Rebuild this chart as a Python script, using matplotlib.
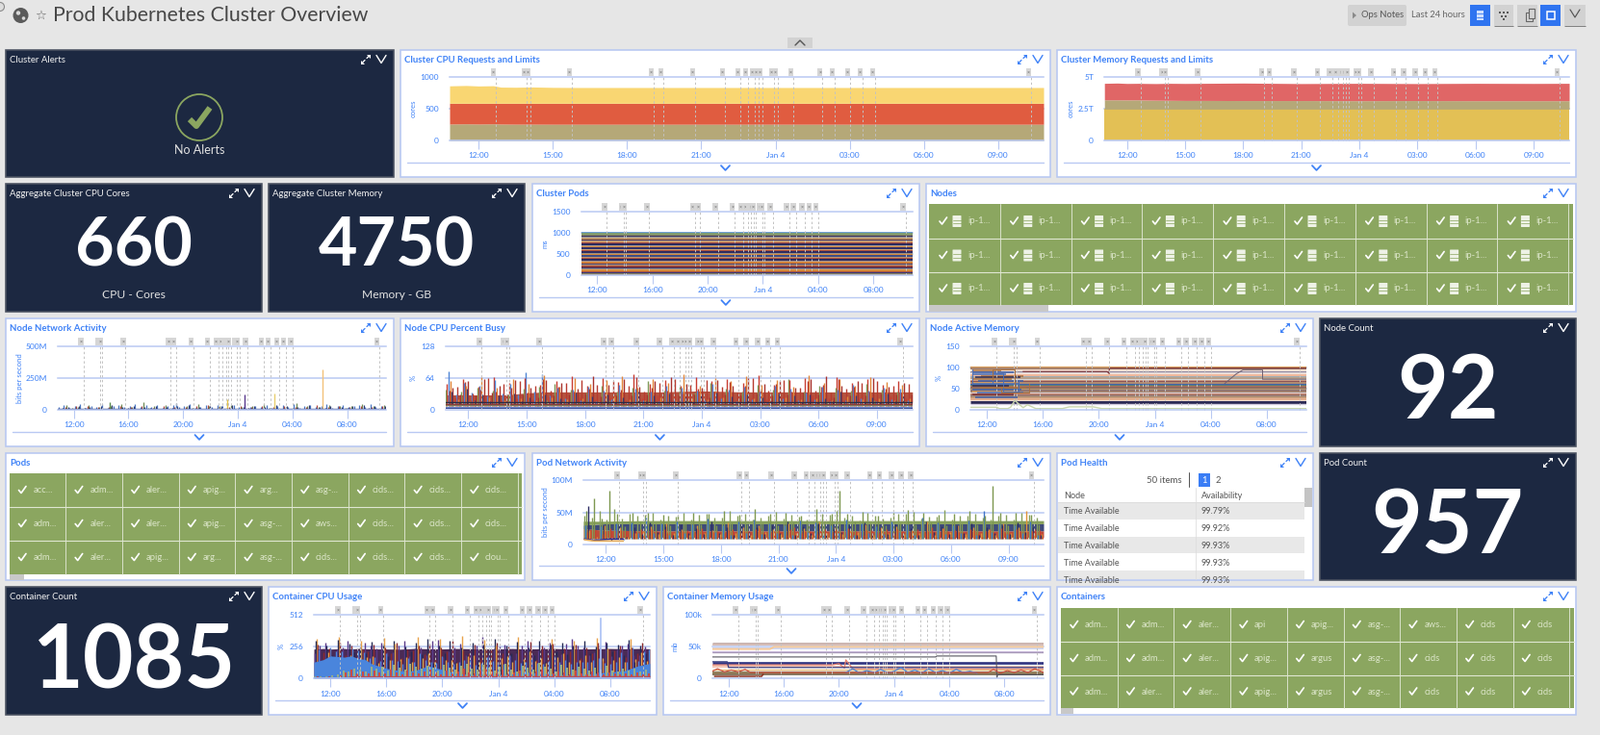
import numpy as np
import matplotlib
matplotlib.use("Agg")
import matplotlib.pyplot as plt
from matplotlib.patches import Rectangle, Circle, Polygon, FancyBboxPatch
from matplotlib.lines import Line2D
from matplotlib.collections import LineCollection

plt.rcParams['font.family'] = ['Lato', 'DejaVu Sans']
W, H = 1662, 764
BG = '#e6e6e6'; NAVY = '#1c2841'; EDGE = '#b7c8f2'; BLUE = '#3f82f7'; GRID = '#b9c9f3'
TILE = '#8ba660'; TILE_TXT = '#dbe5c8'

# ---------- data ----------
START, END = 10.83, 34.83
NOTES = [12.70,13.94,14.10,15.77,19.08,19.47,20.75,21.96,22.58,22.89,23.16,23.32,23.47,
         23.94,24.10,24.72,25.89,26.39,27.01,27.52,28.02,34.33]
H3 = [12,15,18,21,24,27,30,33]; L3 = ['12:00','15:00','18:00','21:00','Jan 4','03:00','06:00','09:00']
H4 = [12,16,20,24,28,32];       L4 = ['12:00','16:00','20:00','Jan 4','04:00','08:00']

BAND_T   = [10.83,11.5,12.0,12.6,12.9,13.5,14.2,15,16,18,21,24,27,30,33,34.83]
CPU_LOW  = [258,262,258,262,258,256,256,255,255,255,255,255,255,255,255,255]
CPU_MID  = [586,586,586,586,586,586,586,586,586,586,586,586,586,586,586,586]
CPU_HIGH = [860,866,858,862,840,838,842,836,834,834,834,834,834,834,834,834]
MEM_LOW  = [2.47,2.47,2.47,2.47,2.47,2.47,2.47,2.47,2.47,2.47,2.47,2.47,2.47,2.47,2.47,2.47]
MEM_MID  = [3.20,3.20,3.19,3.20,3.18,3.17,3.16,3.15,3.15,3.14,3.14,3.13,3.14,3.13,3.13,3.13]
MEM_HIGH = [4.50,4.52,4.49,4.50,4.49,4.48,4.50,4.49,4.50,4.52,4.48,4.50,4.48,4.50,4.49,4.50]

POD_H = [36,30,34,28,34,30,26,34,28,32,34,30,28,36,26,32,30,34,28,32,30,34,26,32,30,36,28,30,34,30,32,26,30]
POD_C = ['#8a7f5a','#3a3a78','#a8503c','#d58a3c','#a89c94','#2f2e66','#93403a','#c9a07a','#3c3b72','#d1803a',
         '#b09a8a','#2b2b5f','#b2533f','#b99570','#3f4c86','#d68838','#9b8f84','#2f2d63','#a34a3a','#cfa070',
         '#32326a','#cc7f3a','#b0a090','#2c2b60','#a5483c','#c6986e','#3a3a70','#d18a40','#aa9a8c','#2f2f66',
         '#8f8a60','#7d9a70','#6f9fd8']

NC_ORANGE = [58,22,49,18,66,25,44,20,61,24,53,19,70,26,47,21,64,23,52,18,59,27,68,22,45,20,62,25,55,19,72,24,48,21,63,26,57,20,67,23,50,18,60,25,46,22,69,24,54,19,62,27,49,21,65,23,56,20,51,24]
NC_RED1   = [52,26,61,20,47,28,66,19,55,24,63,22,50,27,58,18,68,25,49,21,64,26,56,20,71,23,53,28,60,19,48,25,65,22,57,27,62,20,54,24,69,21,51,26,59,18,63,28,47,23,66,20,55,25,61,22,50,27,58,24]
NC_RED2   = [44,30,57,28,62,34,48,30,59,31,45,26,60,29,55,30,43,32,67,27,50,29,61,29,46,31,58,34,65,28,52,30,44,26,60,30,49,28,64,32,53,29,58,30,45,34,61,31,67,26,48,29,57,28,63,32,46,30,54,30]
NC_RED3   = [38,47,56,33,41,63,36,52,44,58,35,49,62,38,46,54,37,60,42,51,34,57,40,48,65,36,44,55,39,61,33,50,43,59,37,46,56,35,48,63,41,38,52,60,36,45,57,39,50,34,62,43,47,55,37,58,42,49,35,53]
NC_BLUE   = [78,30,55,34,48,28,60,32,52,30,75,36,72,28,44,24,40,20,46,18,38,22,50,16,42,20,36,18,48,22,44,16,39,20,52,24,41,18,46,21,37,16,49,23,43,19,35,22,47,17,40,20,51,24,38,18,45,21,42,19]
NC_OLIVE  = [40,14,36,18,44,12,38,16,30,14,42,8,46,20,52,18,40,16,34,12,48,20,36,14,44,18,58,16,38,12,46,20,35,15,54,18,42,14,37,16,50,12,40,20,62,15,36,13,48,18,44,16,39,12,52,20,41,14,37,18]
NC_DARK   = [36,16,42,20,30,18,28,15,33,17,26,14,30,16,24,15,34,17,27,14,31,16,25,15,36,17,28,14,32,16,26,15,29,17,35,14,27,16,31,15,25,17,33,14,28,16,30,15,24,17,37,14,29,16,26,15,32,17,27,14]
NC_KNOTS  = [10.83,12,13,14,15,16,18,20,22,24,26,28,30,32,34.83]
NC_CORE   = [30,30,30,30,34,36,36,36,36,38,36,36,36,36,36]
NC_BASE   = [14,14,13,13,15,15,15,14,15,15,15,14,15,15,15]
NC_FLATS  = [(3,'#2d3f8e',1.3),(6.5,'#6f8fd0',0.6),(9,'#7d7a5a',0.8),(12,'#8c3b3a',0.8),(16,'#2c2c44',1.0)]

NN_NAVY  = [12,26,9,31,14,22,8,28,11,35,10,24,13,30,9,21,15,33,8,26,12,29,10,38,14,23,9,31,11,27,13,36,8,25,12,30,10,22,15,34,9,28,13,24,11,37,8,26,14,31,10,23,12,29,9,35,13,27,11,30]
NN_OLIVE = [7,34,12,22,6,41,10,25,9,30,7,45,11,24,6,60,12,29,8,36,10,26,7,33,12,48,9,27,6,31,11,39,8,24,10,28,7,42,12,30,9,26,6,52,11,33,8,25,10,38,7,30,12,27,9,44,6,29,11,35]
NN_RED   = [10,20,6,27,9,31,7,19,11,26,5,33,8,22,10,28,6,18,9,30,7,25,11,21,5,29,8,34,10,20,6,24,9,32,7,19,11,27,5,23,8,30,10,21,6,26,9,35,7,20,11,28,5,24,8,31,10,22,6,27]
NN_BLUE  = [24,38,16,29,42,18,33,25,44,17,30,38,21,27,48,19,35,24,40,16,28,36,22,31,45,18,26,34,20,41,29,17,37,23,46,19,32,26,39,16,30,35,24,43,18,27,37,21,33,47,17,28,40,22,31,36,19,44,25,30]
NN_PEAKS_T = [23.2,24.5,26.7,30.2,14.6,19.5]
NN_PEAKS_V = [85,120,125,318,60,55]
NN_PEAKS_C = ['#e8c44a','#5b3a8e','#e8cf70','#f3c27a','#5a8a50','#4d7ac0']

PN_GREEN = [52,72,40,84,48,28,50,36,50,32,46,30,44,33,50,31,48,30,52,34,46,31,55,33,47,30,49,34,44,31,56,33,48,84,47,35,51,32,45,30,49,33,54,31,50,34,46,30,48,33,52,31,45,92,50,30,49,33,46,31]
PN_OLIVE = [44,42,52,38,55,40,47,45,46,50,38,44,43,49,39,46,47,41,41,53,44,48,38,42,45,51,40,46,43,39,39,48,46,52,41,44,37,49,44,40,42,47,47,51,40,43,43,54,38,45,45,48,41,39,44,46,39,50,46,42]
PN_BLUE  = [30,9,28,8,32,7,34,17,41,18,33,15,36,18,31,16,40,19,30,15,35,17,38,16,32,18,29,15,37,19,34,16,30,18,39,15,33,17,28,16,36,19,31,15,41,18,34,16,29,17,37,15,52,19,33,16,30,18,35,15]
PN_NAVY  = [60,6,30,5,28,12,26,16,34,19,28,15,31,18,25,16,35,17,27,15,33,19,26,16,30,18,36,15,28,17,32,16,24,19,29,15,34,18,27,16,31,17,25,15,35,19,28,16,30,18,33,15,26,17,29,16,34,19,27,15]
PN_ORANGE= [22,12,30,8,26,11,18,20,28,16,33,17,24,15,30,18,22,16,34,17,26,15,29,19,23,16,32,18,25,15,36,17,27,16,24,19,31,15,26,18,28,16,22,17,35,15,25,19,30,16,27,18,23,15,33,17,26,52,18,16]
PN_RED   = [24,10,20,12,22,11,19,11,23,10,18,12,21,11,24,10,19,12,22,10,20,11,25,12,18,10,23,11,20,12,21,10,24,11,19,12,22,10,18,11,23,12,20,10,21,11,25,12,19,10,22,11,24,12,18,10,20,11,23,12]
PN_RED2  = [19,22,16,25,18,21,17,23,15,20,24,16,19,22,17,25,15,21,18,23,16,20,24,17,19,22,15,26,18,21,16,23,19,17,25,20,15,22,18,24,16,21,19,23,17,26,15,20,22,18,24,16,21,19,25,17,23,15,20,22]
PN_KNOTS = [10.83,12,14,16,18,20,22,24,26,28,30,32,34.83]
PN_LOW   = [8,10,11,11,11,11,11,11,11,11,11,11,11]
PN_MID   = [24,22,21,21,21,21,21,21,21,21,21,21,21]
PN_DARK  = [30,32,32,32,32,32,32,32,32,32,32,32,32]
PN_TOP   = [36,36,37,37,37,37,37,37,37,37,37,37,37]
PN_EARLY_T = [10.9,11.4,12.2,12.9]; PN_EARLY_NAVY = [8,6,8,8]; PN_EARLY_ORANGE = [7,5,5,5]

CC_KNOTS = [10.83,11.5,12,13,13.5,14,14.5,15,16,17,18,19,20,21,22,23,24,25,26,27,28,29,30,31,32,33,34,34.83]
CC_DARK  = [235,240,235,240,236,240,238,236,236,234,240,238,236,240,238,236,236,240,236,238,240,236,236,238,240,238,240,238]
CC_BLUE  = [130,150,180,170,180,160,150,115,80,60,60,100,70,40,30,30,30,35,50,40,35,25,30,40,50,60,100,120]
CC_NAVY   = [300,120,260,190,310,150,280,210,250,200,295,130,270,180,305,140,255,215,285,195,315,125,265,205,300,135,245,190,290,150,275,210,320,120,260,200,295,140,250,185,305,130,270,215,285,195,260,125,300,205,255,140,290,220,275,190,310,130,265,200]
CC_MAROON = [270,210,240,150,285,190,260,170,230,220,275,140,250,200,290,160,235,225,265,195,280,155,245,215,300,135,225,205,270,165,240,230,285,200,255,145,230,210,295,150,260,195,280,135,240,220,270,160,250,205,290,140,235,225,265,170,245,200,285,150]
CC_ORANGE = [320,140,210,120,330,160,190,130,300,170,180,125,325,145,280,155,170,135,335,165,200,130,315,150,150,125,340,175,190,135,310,145,260,160,175,130,330,155,220,140,165,125,320,170,205,135,300,150,185,130,325,160,240,145,170,130,315,155,210,140]
CC_PURPLE = [200,260,290,180,230,250,305,170,180,290,260,240,290,210,210,260,300,180,240,250,190,300,310,170,220,245,280,185,200,260,330,190,240,255,270,175,205,265,300,195,225,250,285,170,195,280,315,260,245,190,210,245,295,175,230,265,280,185,190,255]
CC_BLUE_L = [230,120,250,215,220,130,240,225,210,160,170,140,200,150,140,120,160,130,205,145,130,125,180,135,120,130,150,150,110,125,170,140,135,120,190,145,125,130,155,125,115,140,175,135,145,120,130,130,130,145,165,125,120,135,210,130,250,140,220,230]
CC_GREEN_J = [14,12,16,20,28,62,55,80,72,58,90,74,96,64,110,82,68,118,92,76,104,88,60,112,84,70,98,120,78,66,108,86,62,94,116,72,58,100,82,68,122,90,74,56,106,84,66,96,78,60,88,70,102,64,56,80,62,74,54,68]
CC_RED_J   = [12,10,14,11,22,48,66,38,58,42,62,46,36,70,50,34,60,44,38,56,72,48,34,64,40,52,76,44,36,60,80,54,42,68,38,50,64,34,46,58,70,42,36,56,48,32,62,40,34,52,44,30,48,36,28,42,32,46,30,38]
CC_KNOTS2 = [10.83,13,13.5,34.83]; CC_REDFILL = [6,8,20,22]
CC_SPIKE = [31.3, 480]

CM_FLATS = [(55,'#b79a94',1.8),(53,'#d8c0ba',1.2),(47.5,'#cfd6f0',1.4),(41.5,'#c7b6d8',1.6),(40.5,'#a89ab8',0.8),
            (24.5,'#2f3380',1.9),(18,'#f5c8b6',1.6),(13,'#e6bd7a',0.9),(11,'#a89a78',1.0),(9.5,'#8a7a5a',1.4),(7.5,'#9b8460',1.6),(5.5,'#7b6a50',1.2)]
CM_ORANGE_T = [10.83,15.0,15.3,34.83]; CM_ORANGE_V = [46,46,49.5,49.5]
CM_GRAY_T = [10.83,27.0,27.1,31.4,31.45,31.5,34.83]; CM_GRAY_V = [33.5,33.5,35,35,1,5.5,5.5]
CM_PINK_T = [10.83,19.5,20.0,20.4,20.5,21,34.83]; CM_PINK_V = [21,21,23,16,29,15,15]
CM_NAVY_T = [10.83,11.9,12.0,34.83]; CM_NAVY_V = [26,26,17,17]
CM_DARKRED_T = [11.0,14.4,14.5]; CM_DARKRED_V = [3,3,6]
CM_BLUE_T = [20.5,21,21.5,22,22.6,23,23.6,24,24.5,25,25.5,26,26.5,27,27.5,28,28.5,29,29.5,30]
CM_BLUE_V = [9,15,8,12,9,14,8,11,17,9,13,8,15,9,12,8,14,9,11,8]
CM_RED_T = [10.83,11.2,11.7,12.2,12.7,13.2,13.6,30.8,31.2,31.7,32.2,32.7,33.2,33.7,34.2,34.83]
CM_RED_V = [11,15,10,13,10,14,9,9,14,8,12,9,13,9,15,9]

NM_FLATS = [(99,'#d9a060',1.6),(96.5,'#a5806a',1.4),(92,'#f2dcd0',2.2),(88.5,'#8e8aa5',1.4),(85.5,'#f3e8e2',1.8),
 (82.5,'#c77e60',1.2),(80.5,'#f0b89c',1.6),(77.5,'#7f9aa8',1.1),(74.5,'#b9a08a',1.6),(71,'#5a7a98',1.0),(68.5,'#c99a82',1.6),
 (65.5,'#7a3f4c',1.2),(62.5,'#b08a70',1.6),(59.5,'#3d5fa8',1.4),(57,'#4f8a70',1.1),(54.5,'#a9705c',1.6),(51.5,'#8f6a5c',1.4),
 (48,'#b8925e',1.2),(45,'#8a6f70',1.5),(42.5,'#a0806f',1.4),(39,'#6a4060',1.0),(36.5,'#c4806a',1.5),(33.5,'#9a7870',1.4),
 (30,'#a89070',1.4),(27.5,'#c99a7a',1.7),(24.5,'#e5b090',1.6),(21,'#f2ddcc',1.3),(17.5,'#2c2a55',2.2),(14.5,'#d5cfe0',1.0)]
NM_PALE_T = [10.83,12.7,12.9,13.5,13.7,14.0,14.6,14.9,15.5,17.4,17.9,19.6,20.2,34.83]
NM_PALE_V = [6,6,3,3,6,22,5,12,3,3,7,7,3,3]
NM_SHORT_Y = [92,88,83,79,76,72,68,64,60,56,52,48,44,40,36,30]
NM_SHORT_C = ['#a8703f','#3d5fa8','#4a6fb5','#a8703f','#2c2a55','#a8703f','#3d5fa8','#d9a060','#4a6fb5','#2c2a55','#a8703f','#3d5fa8','#d9a060','#4a6fb5','#7a3036','#3d5fa8']
NM_SHORT_A = [11.0,11.0,11.0,11.6,11.2,11.0,11.4,11.0,11.0,11.0,11.5,11.0,11.0,11.3,11.0,11.2]
NM_SHORT_B = [13.0,14.0,13.4,14.6,14.4,13.8,14.6,14.0,14.3,13.6,14.8,14.5,14.0,14.6,13.9,14.2]
NM_BLUE_T = [11,11,12.4,12.4,13.2,13.2,14.3,14.3]
NM_BLUE_V = [95,60,60,85,85,42,42,68]
NM_BROWN_T = [12.4,12.4,14.0,14.0,13.0,13.0,15.0,15.0]
NM_BROWN_V = [70,96,96,55,55,40,40,62]
NM_MAROON_T = [14.6,20.6,20.75,20.75,34.83]; NM_MAROON_V = [90,90,85,98,98]
NM_GRAY_T = [29.0,29.8,30.3,31.7,31.7,34.83]; NM_GRAY_V = [62,84,94,94,72,72]

NODES_LABEL = 'ip-1...'
POD_LABELS = [['acc...','adm...','aler...','apig...','arg...','asg-...','cids...','cids...','cids...'],
              ['adm...','aler...','aler...','apig...','asg-...','aws...','cids...','cids...','cids...'],
              ['adm...','aler...','apig...','arg...','asg-...','cids...','cids...','cids...','clou...']]
CONT_LABELS = [['adm...','adm...','aler...','api','apig...','asg-...','aws...','cids','cids'],
               ['adm...','adm...','aler...','apig...','argus','asg-...','cids','cids','cids'],
               ['adm...','aler...','aler...','apig...','argus','asg-...','cids','cids','cids']]
AVAIL = ['99.79%','99.92%','99.93%','99.93%','99.93%']

# ---------- canvas ----------
fig = plt.figure(figsize=(W/100, H/100), dpi=100, facecolor=BG)
bg = fig.add_axes([0, 0, 1, 1], zorder=0); bg.set_xlim(0, W); bg.set_ylim(H, 0); bg.axis('off')
PT = 0.72

def line(xs, ys, c, lw=1.0, **k):
    bg.add_line(Line2D(xs, ys, color=c, lw=lw*PT, solid_capstyle=k.pop('cap', 'round'), **k))

def txt(x, y, s, px, c, ha='left', weight='normal', **k):
    return bg.text(x, y, s, fontsize=px*PT, color=c, ha=ha, va='center', fontweight=weight, **k)

def expand_icon(x, y, c):
    line([x-3, x-1], [y+3, y+1], c, 1.3); line([x+1, x+3], [y-1, y-3], c, 1.3)
    bg.add_patch(Polygon([[x+1, y-5], [x+5, y-5], [x+5, y-1]], fc=c, ec='none'))
    bg.add_patch(Polygon([[x-5, y+1], [x-5, y+5], [x-1, y+5]], fc=c, ec='none'))

def vee(x, y, c, w=5, h=4, lw=1.4):
    line([x-w, x, x+w], [y-h, y+h, y-h], c, lw)

def panel(x0, y0, x1, y1, title, dark=False):
    bg.add_patch(Rectangle((x0, y0), x1-x0, y1-y0, fc=NAVY if dark else 'white',
                           ec='#4a5160' if dark else EDGE, lw=1.6*PT))
    c = '#f2f2f2' if dark else BLUE
    txt(x0+4, y0+10.8, title, 9.6, c, weight='bold' if not dark else 'normal')
    ic = 'white' if dark else BLUE
    expand_icon(x1-29, y0+9.5, ic); vee(x1-13, y0+9.5, ic)

def chart(x0, x1, ytop, ybot, yticks, ylabs, ylab, ymax, ticks, labs, panel_left, panel_bottom, ylab_x):
    ax = fig.add_axes([x0/W, 1-ybot/H, (x1-x0)/W, (ybot-ytop)/H], zorder=2)
    ax.patch.set_alpha(0)
    ax.set_xlim(START, END); ax.set_ylim(0, ymax)
    for s in ax.spines.values():
        s.set_visible(False)
    ax.set_yticks(yticks); ax.set_yticklabels(ylabs)
    ax.set_xticks(ticks); ax.set_xticklabels(labs)
    ax.tick_params(axis='y', length=0, pad=8, labelsize=6, labelcolor=BLUE)
    ax.tick_params(axis='x', length=6.5, width=0.8, color=GRID, pad=2.5, labelsize=6, labelcolor=BLUE)
    for v in yticks:
        ax.axhline(v, color=GRID, lw=1.1, zorder=1.5 if v else 6, clip_on=False)
    for t in NOTES:
        ax.plot([t, t], [0, ymax], color='#c2c2c2', lw=0.7, ls=(0, (2.5, 2.5)), zorder=5, clip_on=False)
        ax.annotate('×', xy=(t, 1), xycoords=ax.get_xaxis_transform(), xytext=(-1.8, 3.6),
                    textcoords='offset points', fontsize=3.8, color='#666666', ha='center', va='center',
                    bbox=dict(boxstyle='square,pad=0.25', fc='#d6d6d6', ec='none'), annotation_clip=False, zorder=7)
    bg.text(ylab_x, (ytop+ybot)/2, ylab, rotation=90, fontsize=5.6, color=BLUE, ha='center', va='center')
    sep = panel_bottom-15
    line([panel_left+7, x1], [sep, sep], GRID, 1.4)
    vee((panel_left+7+x1)/2, panel_bottom-9.5, BLUE, 4.5, 2.4, 1.8)
    return ax

def spikes(ax, series, floor, lw=1.0, z=3):
    n = len(series)
    segs, cols, tops = [], [], []
    for k, (vals, c) in enumerate(series):
        step = (END-START)/len(vals)
        t = START + step*(np.arange(len(vals)) + (k+0.5)/n)
        for ti, v in zip(t, vals):
            segs.append([(ti, floor), (ti, v)]); cols.append(c); tops.append(v)
    order = np.argsort(tops)[::-1]
    ax.add_collection(LineCollection([segs[i] for i in order], colors=[cols[i] for i in order],
                                     linewidths=lw, zorder=z))

def tiles(x0, y_edges, cw, rows, cols, labels, check_dx, text_dx, server=False):
    total = cw*cols
    for r in range(rows):
        y0, y1 = y_edges[r], y_edges[r+1]
        bg.add_patch(Rectangle((x0, y0), total+4.5, y1-y0, fc=TILE, ec='none'))
        if r:
            line([x0, x0+total+4.5], [y0, y0], '#dfe6d2', 1.1)
        for c in range(cols):
            xc = x0+c*cw
            if c:
                line([xc, xc], [y0, y1], '#dfe6d2', 0.9)
            ym = (y0+y1)/2
            cx = xc+check_dx
            line([cx-4, cx-1.5, cx+3.5], [ym, ym+3, ym-4], 'white', 1.7)
            if server:
                bg.add_patch(FancyBboxPatch((xc+25, ym-5.5), 8, 11, boxstyle='round,pad=0.5', fc='#eef2e6', ec='none'))
                line([xc+24.5, xc+33.5], [ym-1.5, ym-1.5], TILE, 0.7)
                line([xc+24.5, xc+33.5], [ym+2, ym+2], TILE, 0.7)
            txt(xc+text_dx, ym, labels[r][c], 9.4, TILE_TXT)
    line([x0+total, x0+total], [y_edges[0], y_edges[-1]], '#dfe6d2', 0.9)

# ---------- header ----------
bg.add_patch(Circle((0, 7), 4.5, fc='#dddddd', ec='#8a8a8a', lw=0.8))
bg.add_patch(Circle((21.5, 16), 8, fc='#5a5a5a', ec='none'))
bg.add_patch(Circle((19, 13.5), 2.2, fc='#d8d8d8', ec='none'))
bg.add_patch(Circle((24.5, 19), 1.8, fc='#d8d8d8', ec='none'))
bg.text(42, 16, '☆', fontsize=9.5, color='#666666', ha='center', va='center', family='DejaVu Sans')
txt(55, 16, 'Prod Kubernetes Cluster Overview', 21.3, '#474747')
bg.add_patch(FancyBboxPatch((1402, 7), 57, 18, boxstyle='round,pad=2', fc='#d2d2d2', ec='none'))
bg.add_patch(Polygon([[1405, 12.5], [1405, 19.5], [1409, 16]], fc='#8a8a8a', ec='none'))
txt(1414, 16, 'Ops Notes', 9.4, '#555555')
txt(1466, 16, 'Last 24 hours', 9.4, '#666666')
for xa, xb, c in [(1527, 1548, '#2f74f0'), (1552, 1572, '#d2d2d2'), (1576, 1597, '#d2d2d2'), (1600, 1621, '#2f74f0'), (1625, 1647, '#d2d2d2')]:
    bg.add_patch(Rectangle((xa, 5), xb-xa, 22, fc=c, ec='none'))
    if c != '#2f74f0':
        line([xa, xb], [27, 27], '#777777', 0.9, cap='butt')
bg.add_patch(Rectangle((1534, 11), 7, 10, fc='#cfe0ff', ec='none'))
line([1534, 1541], [14, 14], '#2f74f0', 0.8); line([1534, 1541], [18, 18], '#2f74f0', 0.8)
for dx, dy in [(-4, -2), (0, -2), (4, -2), (-2, 2), (2, 2), (0, 5)]:
    bg.add_patch(Rectangle((1561.5+dx-1, 15+dy-1), 2, 2, fc='#5a5a5a', ec='none'))
bg.add_patch(Rectangle((1585, 13), 7, 9, fc='none', ec='#666666', lw=0.8))
bg.add_patch(Rectangle((1588, 9), 6, 10, fc='#d2d2d2', ec='#666666', lw=0.8))
bg.add_patch(Rectangle((1606.5, 11.5), 8, 8, fc='none', ec='white', lw=1.1))
vee(1636, 14, '#555555', 5, 4, 1.2)
bg.add_patch(Rectangle((818, 39), 26, 11, fc='#d2d2d2', ec='none'))
line([826, 831, 836], [47, 42, 47], '#555555', 1.4)

# ---------- alerts ----------
panel(6, 52, 409, 184, 'Cluster Alerts', dark=True)
bg.add_patch(Circle((207, 122), 24, fc='none', ec='#8ba660', lw=1.8*PT))
line([197, 204, 218], [124, 131, 112], '#8ba660', 6, cap='butt')
txt(207, 156, 'No Alerts', 12.5, '#e2e2e2', ha='center')

# ---------- cluster CPU ----------
panel(416, 52, 1091, 184, 'Cluster CPU Requests and Limits')
a = chart(467, 1084, 80, 146, [0, 500, 1000], ['0', '500', '1000'], 'cores', 1000, H3, L3, 416, 184, 429)
a.fill_between(BAND_T, 0, CPU_LOW, color='#b5a878', lw=0, zorder=2)
a.fill_between(BAND_T, CPU_LOW, CPU_MID, color='#e05c40', lw=0, zorder=2)
a.fill_between(BAND_T, CPU_MID, CPU_HIGH, color='#f9d672', lw=0, zorder=2)

# ---------- cluster memory ----------
panel(1098, 52, 1637, 184, 'Cluster Memory Requests and Limits')
a = chart(1147.2, 1630, 80, 146, [0, 2.5, 5], ['0', '2.5T', '5T'], 'cores', 5, H3, L3, 1098, 184, 1112)
a.fill_between(BAND_T, 0, MEM_LOW, color='#e3c055', lw=0, zorder=2)
a.fill_between(BAND_T, MEM_LOW, MEM_MID, color='#b5a878', lw=0, zorder=2)
a.fill_between(BAND_T, MEM_MID, MEM_HIGH, color='#e06666', lw=0, zorder=2)

# ---------- aggregates ----------
panel(6, 191, 272, 324, 'Aggregate Cluster CPU Cores', dark=True)
txt(139, 256, '660', 70, 'white', ha='center', weight='bold')
txt(139, 306, 'CPU - Cores', 12, '#e2e2e2', ha='center')
panel(279, 191, 545, 324, 'Aggregate Cluster Memory', dark=True)
txt(412, 256, '4750', 70, 'white', ha='center', weight='bold')
txt(412, 306, 'Memory - GB', 12, '#e2e2e2', ha='center')

# ---------- cluster pods ----------
panel(553, 191, 955, 324, 'Cluster Pods')
a = chart(603.5, 947.8, 220, 286, [0, 500, 1000, 1500], ['0', '500', '1000', '1500'], 'ms', 1500, H4, L4, 553, 324, 566)
bot = 0
for h_, c_ in zip(POD_H, POD_C):
    a.fill_between([START, END], bot, bot+h_, color=c_, lw=0, zorder=2)
    bot += h_

# ---------- nodes ----------
panel(962, 191, 1637, 324, 'Nodes')
tiles(965, [212, 248, 283, 317], 73.8, 3, 9, [[NODES_LABEL]*9]*3, 15, 40, server=True)
bg.add_patch(Rectangle((965, 317), 124, 6.5, fc='#c8c8c8', ec='none'))

# ---------- node network ----------
panel(6, 331, 409, 464, 'Node Network Activity')
a = chart(60, 401, 359.7, 426, [0, 250, 500], ['0', '250M', '500M'], 'bits per second', 500, H4, L4, 6, 464, 20)
spikes(a, [(NN_BLUE, '#4a78c4'), (NN_RED, '#b0453c'), (NN_OLIVE, '#6f8a55'), (NN_NAVY, '#2e3a78')], 3, lw=0.9)
a.vlines(NN_PEAKS_T, 0, NN_PEAKS_V, colors=NN_PEAKS_C, lw=1.0, zorder=3)
a.plot([START, END], [5, 5], color='#2e3a78', lw=1.0, zorder=4)

# ---------- node CPU ----------
panel(416, 331, 955, 464, 'Node CPU Percent Busy')
a = chart(462.7, 947.8, 359.7, 426, [0, 64, 128], ['0', '64', '128'], '%', 128, H3, L3, 416, 464, 429)
a.fill_between(NC_KNOTS, NC_BASE, NC_CORE, color='#b5533f', lw=0, zorder=2)
spikes(a, [(NC_OLIVE, '#7f9a58'), (NC_RED1, '#c83c30'), (NC_BLUE, '#4f86d6'), (NC_RED3, '#b83a2e'), (NC_ORANGE, '#e2873a'),
           (NC_DARK, '#3a3a6e'), (NC_RED2, '#a8322c')], 8, lw=1.0)
for y_, c_, w_ in NC_FLATS:
    a.plot([START, END], [y_, y_], color=c_, lw=w_, zorder=4)

# ---------- node active memory ----------
panel(962, 331, 1364, 464, 'Node Active Memory')
a = chart(1008, 1357, 359.7, 426, [0, 50, 100, 150], ['0', '50', '100', '150'], '%', 150, H4, L4, 962, 464, 975)
for y_, c_, w_ in NM_FLATS:
    a.plot([START, END], [y_, y_], color=c_, lw=w_, zorder=2, solid_capstyle='butt')
a.hlines(NM_SHORT_Y, NM_SHORT_A, NM_SHORT_B, colors=NM_SHORT_C, lw=1.1, zorder=2.5)
a.plot(NM_PALE_T, NM_PALE_V, color='#c9d6ae', lw=1.0, zorder=3)
a.plot(NM_BLUE_T, NM_BLUE_V, color='#4a6fb5', lw=0.7, zorder=3)
a.plot(NM_BROWN_T, NM_BROWN_V, color='#a8703f', lw=0.7, zorder=3)
a.plot(NM_MAROON_T, NM_MAROON_V, color='#7a3036', lw=0.8, zorder=3)
a.plot(NM_GRAY_T, NM_GRAY_V, color='#6f5f70', lw=0.7, zorder=3)

# ---------- node count ----------
panel(1371, 331, 1637, 464, 'Node Count', dark=True)
txt(1504, 409, '92', 91, 'white', ha='center', weight='bold')

# ---------- pods ----------
panel(6, 471, 545, 603, 'Pods')
tiles(9.5, [492, 527, 562, 597], 58.7, 3, 9, POD_LABELS, 14, 25)
bg.add_patch(Rectangle((9.5, 597), 15.5, 6, fc='#c8c8c8', ec='none'))

# ---------- pod network ----------
panel(553, 471, 1091, 603, 'Pod Network Activity')
a = chart(606, 1084, 499.3, 565.7, [0, 50, 100], ['0', '50M', '100M'], 'bits per second', 100, H3, L3, 553, 603, 566)
a.fill_between(PN_KNOTS, PN_LOW, PN_MID, color='#c04a38', lw=0, zorder=2)
a.fill_between(PN_KNOTS, PN_MID, PN_DARK, color='#3e4a7a', lw=0, zorder=2)
a.fill_between(PN_KNOTS, PN_DARK, PN_TOP, color='#87a05c', lw=0, zorder=2)
spikes(a, [(PN_OLIVE, '#87a05c'), (PN_BLUE, '#3f73c8'), (PN_GREEN, '#7d9850'), (PN_RED2, '#c4432f'), (PN_NAVY, '#2b2b62'),
           (PN_ORANGE, '#e0943a'), (PN_RED, '#c4432f')], 9, lw=1.0)
a.plot(PN_EARLY_T, PN_EARLY_NAVY, color='#2b2b8a', lw=1.2, zorder=4)
a.plot(PN_EARLY_T, PN_EARLY_ORANGE, color='#e8b060', lw=1.2, zorder=4)

# ---------- pod health ----------
panel(1098, 471, 1364, 603, 'Pod Health')
clip = Rectangle((1098, 471), 266, 132, transform=bg.transData)
txt(1209, 499.5, '50 items', 9.6, '#555555', ha='center')
line([1235, 1235], [491, 506], '#444444', 0.9)
bg.add_patch(Rectangle((1245, 492), 12, 14, fc='#3a7df5', ec='none'))
txt(1251, 499.5, '1', 9.5, 'white', ha='center')
txt(1265, 499.5, '2', 9.5, '#555555', ha='center')
txt(1105, 515.5, 'Node', 9, '#555555'); txt(1248, 515.5, 'Availability', 9, '#555555')
line([1099, 1355], [522, 522], '#dddddd', 1.0)
for i, v in enumerate(AVAIL):
    y0 = 522+i*17.8
    if i % 2 == 0:
        bg.add_patch(Rectangle((1099, y0), 256, min(17.8, 602-y0), fc='#e8e8e8', ec='none'))
    t1 = txt(1105, y0+10, 'Time Available', 9, '#555555'); t2 = txt(1248, y0+10, v, 9, '#555555')
    t1.set_clip_path(clip); t2.set_clip_path(clip)
line([1242, 1242], [507, 602], '#dddddd', 0.8)
bg.add_patch(Rectangle((1355, 507), 8, 20, fc='#c4c4c4', ec='none'))

# ---------- pod count ----------
panel(1371, 471, 1637, 603, 'Pod Count', dark=True)
txt(1503, 549, '957', 91, 'white', ha='center', weight='bold')

# ---------- container count ----------
panel(6, 610, 272, 743, 'Container Count', dark=True)
txt(140, 689, '1085', 91, 'white', ha='center', weight='bold')

# ---------- container CPU ----------
panel(279, 610, 682, 743, 'Container CPU Usage')
a = chart(326, 675, 639, 705, [0, 256, 512], ['0', '256', '512'], '%', 512, H4, L4, 279, 743, 292)
a.fill_between(CC_KNOTS, 0, CC_DARK, color='#4a2a55', lw=0, zorder=2)
spikes(a, [(CC_PURPLE, '#5a3a8a'), (CC_NAVY, '#242a55'), (CC_ORANGE, '#e8a24a'), (CC_MAROON, '#8c2a2e'),
           (CC_BLUE_L, '#4a85dc')], 0, lw=1.0, z=2.5)
a.fill_between(CC_KNOTS, 0, CC_BLUE, color='#4a85dc', lw=0, zorder=2.6)
spikes(a, [(CC_GREEN_J, '#9cb184'), (CC_RED_J, '#cc4a44')], 6, lw=1.4, z=2.7)
a.fill_between(CC_KNOTS2, 6, CC_REDFILL, color='#cc4a44', lw=0, zorder=2.8)
a.plot([CC_SPIKE[0]]*2, [0, CC_SPIKE[1]], color='#a9c0f5', lw=1.2, zorder=3)
a.plot([START, END], [6, 6], color='#3f6ccc', lw=0.9, zorder=3)

# ---------- container memory ----------
panel(689, 610, 1091, 743, 'Container Memory Usage')
a = chart(740, 1084, 639, 705, [0, 50000, 100000], ['0', '50k', '100k'], 'mb', 100000, H4, L4, 689, 743, 701)
for y_, c_, w_ in CM_FLATS:
    a.plot([START, END], [y_*1000, y_*1000], color=c_, lw=w_, zorder=2, solid_capstyle='butt')
K = 1000
a.plot(CM_ORANGE_T, np.array(CM_ORANGE_V)*K, color='#f6c999', lw=1.4, zorder=3)
a.plot(CM_GRAY_T, np.array(CM_GRAY_V)*K, color='#55555f', lw=0.8, zorder=3)
a.plot(CM_PINK_T, np.array(CM_PINK_V)*K, color='#e8806a', lw=0.9, zorder=3)
a.plot(CM_NAVY_T, np.array(CM_NAVY_V)*K, color='#3a3f80', lw=0.9, zorder=3)
a.plot(CM_DARKRED_T, np.array(CM_DARKRED_V)*K, color='#8a3020', lw=1.1, zorder=3)
a.plot(CM_BLUE_T, np.array(CM_BLUE_V)*K, color='#4f86d6', lw=0.9, zorder=3)
a.plot(CM_RED_T, np.array(CM_RED_V)*K, color='#cc4a3c', lw=0.8, zorder=3)

# ---------- containers ----------
panel(1098, 610, 1637, 743, 'Containers')
tiles(1102, [632, 667, 702, 736], 58.7, 3, 9, CONT_LABELS, 14, 25)
bg.add_patch(Rectangle((1102, 736), 13, 6, fc='#c8c8c8', ec='none'))

fig.savefig('out.png', dpi=100, facecolor=BG)
